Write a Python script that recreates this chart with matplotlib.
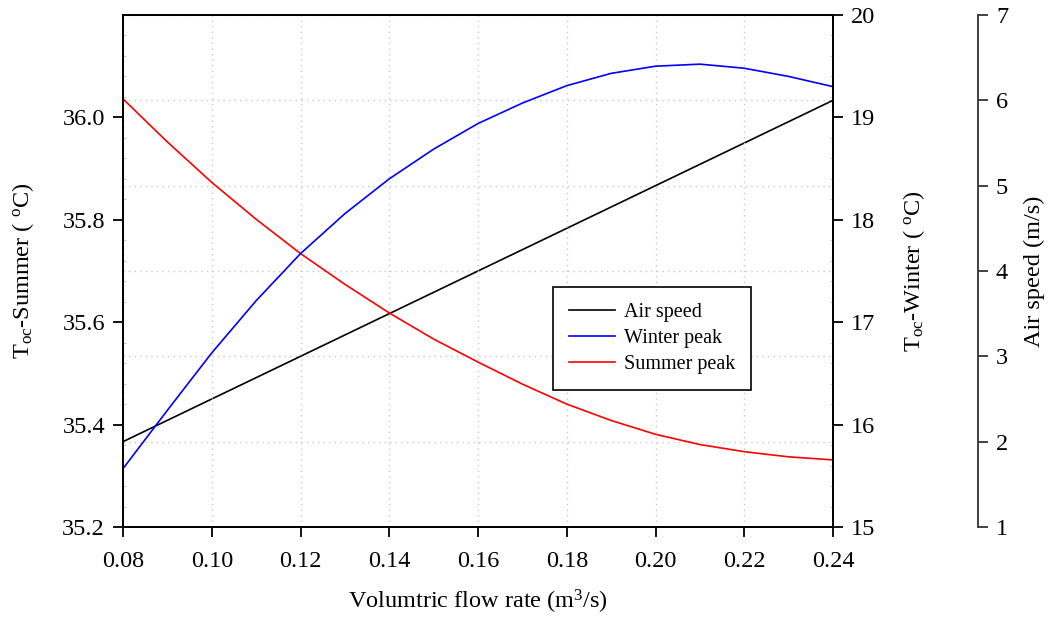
import matplotlib
matplotlib.use("Agg")
import matplotlib.pyplot as plt
from matplotlib.ticker import AutoMinorLocator

plt.rcParams['font.family'] = ['Liberation Serif', 'DejaVu Serif']
plt.rcParams['mathtext.fontset'] = 'custom'
plt.rcParams['mathtext.rm'] = 'Liberation Serif'
plt.rcParams['mathtext.default'] = 'regular'

# flow rate (m3/s)
flow = [0.08, 0.09, 0.10, 0.11, 0.12, 0.13, 0.14, 0.15, 0.16,
        0.17, 0.18, 0.19, 0.20, 0.21, 0.22, 0.23, 0.24]
# air speed (m/s)
air_speed = [2.0, 2.25, 2.5, 2.75, 3.0, 3.25, 3.5, 3.75, 4.0,
             4.25, 4.5, 4.75, 5.0, 5.25, 5.5, 5.75, 6.0]
# peak outlet temperature, winter (C)
winter_peak = [15.57, 16.14, 16.70, 17.21, 17.67, 18.06, 18.40, 18.69, 18.94,
               19.14, 19.31, 19.43, 19.50, 19.52, 19.48, 19.40, 19.30]
# peak outlet temperature, summer (C)
summer_peak = [36.036, 35.952, 35.873, 35.801, 35.734, 35.674, 35.618, 35.567, 35.522,
               35.479, 35.440, 35.408, 35.381, 35.361, 35.347, 35.337, 35.331]

fig = plt.figure(figsize=(10.55, 6.17), dpi=100)
fig.patch.set_facecolor("white")
ax1 = fig.add_axes([0.1166, 0.1459, 0.6730, 0.8298])
ax2 = ax1.twinx()
ax3 = ax1.twinx()

# air speed axis sits behind the other two so its grid stays under the curves
ax3.set_zorder(0)
ax1.set_zorder(1)
ax2.set_zorder(2)
ax1.patch.set_visible(False)

ax3.spines['right'].set_position(('axes', 1.204))
ax3.spines['right'].set_color('#333333')
for s in ['left', 'top', 'bottom']:
    ax3.spines[s].set_visible(False)

l_air, = ax3.plot(flow, air_speed, color='black', lw=1.2, label='Air speed')
l_win, = ax2.plot(flow, winter_peak, color='blue', lw=1.2, label='Winter peak')
l_sum, = ax1.plot(flow, summer_peak, color='red', lw=1.2, label='Summer peak')

ax1.set_xlim(0.08, 0.24)
ax1.set_ylim(35.2, 36.2)
ax2.set_ylim(15, 20)
ax3.set_ylim(1, 7)

ax1.set_xticks([0.08, 0.10, 0.12, 0.14, 0.16, 0.18, 0.20, 0.22, 0.24])
ax1.set_xticklabels(['0.08', '0.10', '0.12', '0.14', '0.16', '0.18', '0.20', '0.22', '0.24'])
ax1.set_yticks([35.2, 35.4, 35.6, 35.8, 36.0])
ax1.set_yticklabels(['35.2', '35.4', '35.6', '35.8', '36.0'])
ax2.set_yticks([15, 16, 17, 18, 19, 20])
ax3.set_yticks([1, 2, 3, 4, 5, 6, 7])

ax1.grid(axis='x', linestyle=(0, (1, 3)), color='#c8c8c8', lw=1)
ax3.grid(axis='y', linestyle=(0, (1, 3)), color='#c8c8c8', lw=1)

for ax in (ax1, ax2, ax3):
    ax.tick_params(axis='both', which='major', direction='out', length=7, width=1.3,
                   labelsize=17.5, pad=6)
ax1.tick_params(axis='x', pad=10.5)
ax3.tick_params(axis='y', color='#333333')
for ax in (ax1, ax2):
    ax.yaxis.set_minor_locator(AutoMinorLocator(5))
    ax.tick_params(axis='y', which='minor', direction='in', length=2, width=0.6,
                   color='#bbbbbb')

for s in ax1.spines.values():
    s.set_linewidth(1.3)
for s in ax2.spines.values():
    s.set_linewidth(1.3)
ax3.spines['right'].set_linewidth(1.3)

ax1.set_xlabel('Volumtric flow rate (m$^{3}$/s)', fontsize=17.5, va='center')
ax1.set_ylabel('T$_{oc}$-Summer ( $^{o}$C)', fontsize=17.5, va='center')
ax2.set_ylabel('T$_{oc}$-Winter ( $^{o}$C)', fontsize=17.5, va='center')
ax3.set_ylabel('Air speed (m/s)', fontsize=17.5, va='center')
ax1.xaxis.set_label_coords(0.5, -0.147)
ax1.yaxis.set_label_coords(-0.141, 0.5)
ax2.yaxis.set_label_coords(1.114, 0.5)
ax3.yaxis.set_label_coords(1.284, 0.5)

leg = ax2.legend(handles=[l_air, l_win, l_sum], loc='upper left',
                 bbox_to_anchor=(0.605, 0.469), fontsize=14.5, frameon=True,
                 fancybox=False, framealpha=1, edgecolor='black',
                 handlelength=2.3, handletextpad=0.45, borderpad=0.8,
                 labelspacing=0.35, borderaxespad=0)
leg.get_frame().set_linewidth(1.2)

fig.savefig('out.png', dpi=100)
